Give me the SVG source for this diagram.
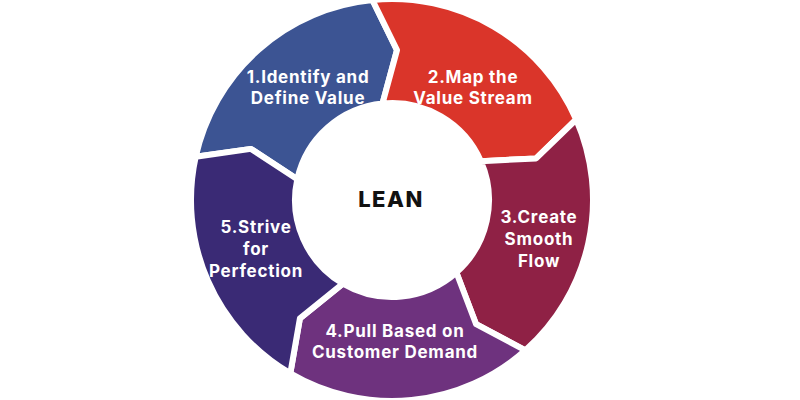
<svg xmlns="http://www.w3.org/2000/svg" width="800" height="400" viewBox="0 0 800 400">
<style>
.seg{stroke:#fff;stroke-width:6;stroke-linejoin:round}
.lbl{font-family:Inter,"Open Sans","Liberation Sans",sans-serif;font-weight:700;font-size:17px;letter-spacing:0.75px;fill:#fff;text-anchor:middle}
.ctr{font-family:Inter,"Open Sans","Liberation Sans",sans-serif;font-weight:800;font-size:22px;letter-spacing:1.5px;fill:#111;text-anchor:middle}
</style>
<rect width="800" height="400" fill="#fff"/>
<g id="step1">
<path class="seg" fill="#3C5493" d="M195.7,156.8 A201,201 0 0 1 372.4,0 L397,50.1 L382.5,103.5 A97,97 0 0 0 297.3,179.2 L251,148.9 Z"/>
<text class="lbl" x="308" y="83">1.Identify and</text>
<text class="lbl" x="308" y="104">Define Value</text>
</g>
<g id="step2">
<path class="seg" fill="#DA352A" d="M372.4,0 A201,201 0 0 1 576.2,119.5 L536.1,158.4 L480.9,161.2 A97,97 0 0 0 382.5,103.5 L397,50.1 Z"/>
<text class="lbl" x="473" y="83">2.Map the</text>
<text class="lbl" x="473" y="104">Value Stream</text>
</g>
<g id="step3">
<path class="seg" fill="#8F2145" d="M576.2,119.5 A201,201 0 0 1 525.4,350.3 L476.1,324.2 L456.4,272.5 A97,97 0 0 0 480.9,161.2 L536.1,158.4 Z"/>
<text class="lbl" x="539" y="223">3.Create</text>
<text class="lbl" x="539" y="245">Smooth</text>
<text class="lbl" x="539" y="267">Flow</text>
</g>
<g id="step4">
<path class="seg" fill="#6E327E" d="M525.4,350.3 A201,201 0 0 1 290.3,373.4 L299.9,318.4 L342.9,283.7 A97,97 0 0 0 456.4,272.5 L476.1,324.2 Z"/>
<text class="lbl" x="395" y="337">4.Pull Based on</text>
<text class="lbl" x="395" y="358">Customer Demand</text>
</g>
<g id="step5">
<path class="seg" fill="#3A2A75" d="M290.3,373.4 A201,201 0 0 1 195.7,156.8 L251,148.9 L297.3,179.2 A97,97 0 0 0 342.9,283.7 L299.9,318.4 Z"/>
<text class="lbl" x="256" y="233">5.Strive</text>
<text class="lbl" x="256" y="255">for</text>
<text class="lbl" x="256" y="277">Perfection</text>
</g>
<g id="center">
<text class="ctr" x="391" y="207">LEAN</text>
</g>
<g id="connectors"></g>
</svg>
